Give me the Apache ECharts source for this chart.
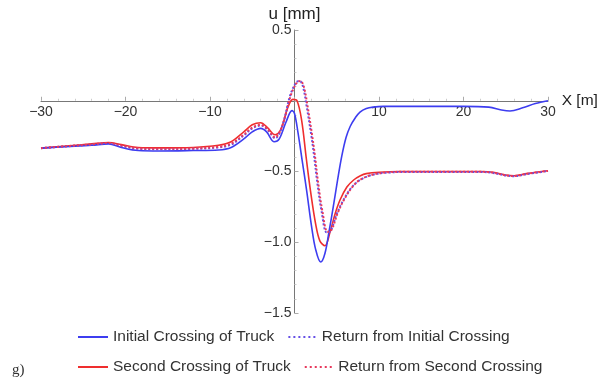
<!DOCTYPE html>
<html><head><meta charset="utf-8">
<script src="https://cdn.jsdelivr.net/npm/echarts@6/dist/echarts.min.js"></script>
<style>html,body{margin:0;padding:0;background:#fff}#c{width:597px;height:381px}</style>
</head><body><div id="c"></div>
<script>
var seriesNames = ['Initial Crossing of Truck','Return from Initial Crossing','Second Crossing of Truck','Return from Second Crossing'];
var xTicks = [-30,-20,-10,0,10,20,30];
var yTicks = [-1.5,-1.0,-0.5,0,0.5];

var initialCrossing = [[-30,-0.335],[-27,-0.325],[-24,-0.315],[-22,-0.305],[-20.5,-0.33],[-18.5,-0.352],[-16,-0.355],[-12,-0.352],[-9,-0.348],[-7.5,-0.33],[-6,-0.27],[-5,-0.22],[-4,-0.195],[-3.3,-0.22],[-2.4,-0.29],[-1.8,-0.27],[-1,-0.15],[-0.3,-0.07],[0,-0.09],[0.4,-0.22],[0.9,-0.42],[1.45,-0.64],[2.0,-0.88],[2.5,-1.05],[3.1,-1.14],[3.6,-1.08],[4.1,-0.92],[4.6,-0.745],[5.1,-0.56],[5.6,-0.39],[6.1,-0.26],[6.6,-0.18],[7.2,-0.12],[7.75,-0.08],[8.5,-0.055],[9.3,-0.045],[10.5,-0.04],[15,-0.04],[20,-0.04],[23,-0.045],[24.5,-0.065],[25.5,-0.072],[27,-0.05],[28.5,-0.02],[30,0]];
var returnInitial = [[-30,-0.335],[-27,-0.322],[-24,-0.31],[-22,-0.3],[-20.5,-0.32],[-18.5,-0.34],[-16,-0.343],[-12,-0.34],[-9,-0.33],[-7.5,-0.31],[-6,-0.245],[-5,-0.195],[-4,-0.175],[-3.2,-0.205],[-2.3,-0.265],[-1.5,-0.19],[-0.5,0.04],[0.2,0.13],[0.6,0.14],[1.0,0.1],[1.44,-0.04],[2.0,-0.25],[2.3,-0.38],[2.7,-0.58],[3.2,-0.78],[3.8,-0.93],[4.2,-0.925],[5.0,-0.8],[5.8,-0.70],[6.8,-0.61],[7.75,-0.56],[9.3,-0.522],[11,-0.508],[13,-0.503],[18,-0.503],[22,-0.503],[23.5,-0.51],[25,-0.528],[26,-0.533],[27.5,-0.518],[30,-0.497]];
var secondCrossing = [[-30,-0.335],[-27,-0.32],[-24,-0.305],[-22,-0.295],[-20.5,-0.31],[-18.5,-0.33],[-16,-0.333],[-12,-0.33],[-9,-0.315],[-7.5,-0.29],[-6,-0.22],[-5,-0.17],[-4,-0.155],[-3.2,-0.19],[-2.3,-0.24],[-1.6,-0.2],[-0.8,-0.05],[-0.2,0.01],[0.3,0.0],[0.85,-0.14],[1.4,-0.41],[1.9,-0.64],[2.5,-0.87],[3.0,-0.99],[3.6,-1.025],[4.2,-0.93],[4.8,-0.8],[5.4,-0.70],[6.2,-0.61],[7.0,-0.56],[7.8,-0.53],[8.5,-0.515],[10,-0.505],[12.5,-0.5],[18,-0.5],[22,-0.5],[23.5,-0.505],[25,-0.525],[26,-0.53],[27.5,-0.515],[30,-0.495]];
var returnSecond = [[-30,-0.335],[-27,-0.321],[-24,-0.308],[-22,-0.298],[-20.5,-0.316],[-18.5,-0.336],[-16,-0.34],[-12,-0.337],[-9,-0.325],[-7.5,-0.303],[-6,-0.24],[-5,-0.19],[-4,-0.17],[-3.2,-0.2],[-2.3,-0.258],[-1.5,-0.185],[-0.4,0.045],[0.3,0.13],[0.7,0.14],[1.1,0.1],[1.55,-0.04],[2.1,-0.25],[2.4,-0.38],[2.8,-0.58],[3.3,-0.78],[3.9,-0.925],[4.3,-0.92],[5.1,-0.795],[5.9,-0.695],[6.9,-0.605],[7.85,-0.555],[9.4,-0.52],[11,-0.506],[13,-0.502],[18,-0.502],[22,-0.502],[23.5,-0.508],[25,-0.527],[26,-0.532],[27.5,-0.516],[30,-0.496]];

var BLUE = '#3d3df0', RED = '#ef2e2e', BLUE_DOT = '#6650e6', RED_DOT = '#e8385c';
function fmtY(v){ if (Math.abs(v) < 1e-9) return ''; return (v<0?'\u2212':'') + Math.abs(v).toFixed(1); }
function fmtX(v){ if (Math.abs(v) < 1e-9) return ''; return (v<0?'\u2212':'') + Math.abs(v); }

var W = 597, H = 381;
var grid = {left:41,right:49,top:30,bottom:68};
var gw = W - grid.left - grid.right, gh = H - grid.top - grid.bottom;
var xMin = xTicks[0], xMax = xTicks[xTicks.length-1], yMin = yTicks[0], yMax = yTicks[yTicks.length-1];
// move axes so they cross at the origin (labels move with them)
var xOffset = -gh * (0 - yMin) / (yMax - yMin);
var yOffset = -gw * (0 - xMin) / (xMax - xMin);

var dotIcon = 'path://M0,0h2v2h-2zM5,0h2v2h-2zM10,0h2v2h-2zM15,0h2v2h-2zM20,0h2v2h-2zM25,0h2v2h-2z';
var lineIcon = 'path://M0,0h30v2h-30z';

var chart = echarts.init(document.getElementById('c'));
var lbl = {color:'#333', fontFamily:'Liberation Sans, Arial', fontSize:14};
chart.setOption({
  animation:false,
  grid:Object.assign({containLabel:false,outerBoundsMode:'none'},grid),
  xAxis:{type:'value',min:xMin,max:xMax,interval:10,position:'bottom',offset:xOffset,
    name:'X [m]',nameLocation:'end',nameGap:6,nameTextStyle:{color:'#222',fontFamily:'Liberation Sans, Arial',fontSize:15.5,verticalAlign:'middle'},
    axisLine:{onZero:false,lineStyle:{color:'#777',width:1}},
    axisTick:{show:true,inside:true,length:4,lineStyle:{color:'#aaa'}},
    minorTick:{show:true,splitNumber:5,length:2,lineStyle:{color:'#ccc'}},
    splitLine:{show:false},
    axisLabel:Object.assign({formatter:fmtX,margin:4},lbl)},
  yAxis:{type:'value',min:yMin,max:yMax,interval:0.5,position:'left',offset:yOffset,
    name:'u [mm]',nameLocation:'end',nameGap:4,nameTextStyle:{color:'#222',fontFamily:'Liberation Sans, Arial',fontSize:17,align:'center'},
    axisLine:{onZero:false,lineStyle:{color:'#777',width:1}},
    axisTick:{show:true,inside:true,length:4,lineStyle:{color:'#aaa'}},
    minorTick:{show:true,splitNumber:5,length:2,lineStyle:{color:'#ccc'}},
    splitLine:{show:false},
    axisLabel:Object.assign({formatter:fmtY,margin:3},lbl)},
  legend:{left:73,top:324,width:490,orient:'horizontal',itemWidth:30,itemHeight:2,itemGap:14,
    data:[{name:seriesNames[0],icon:lineIcon},{name:seriesNames[1],icon:dotIcon},{name:seriesNames[2],icon:lineIcon},{name:seriesNames[3],icon:dotIcon}],
    textStyle:{color:'#333',fontFamily:'Liberation Sans, Arial',fontSize:15.5}},
  graphic:[{type:'text',left:12,top:363,style:{text:'g)',font:'15px "Liberation Serif", serif',fill:'#333'}}],
  series:[
    {name:seriesNames[0],type:'line',data:initialCrossing,smooth:0.35,symbol:'none',lineStyle:{color:BLUE,width:1.6},itemStyle:{color:BLUE},z:3},
    {name:seriesNames[1],type:'line',data:returnInitial,smooth:0.35,symbol:'none',lineStyle:{color:BLUE_DOT,width:2,type:'dotted'},itemStyle:{color:BLUE_DOT},z:4},
    {name:seriesNames[2],type:'line',data:secondCrossing,smooth:0.35,symbol:'none',lineStyle:{color:RED,width:1.6},itemStyle:{color:RED},z:2},
    {name:seriesNames[3],type:'line',data:returnSecond,smooth:0.35,symbol:'none',lineStyle:{color:RED_DOT,width:2,type:'dotted'},itemStyle:{color:RED_DOT},z:5}
  ]
});
</script></body></html>
